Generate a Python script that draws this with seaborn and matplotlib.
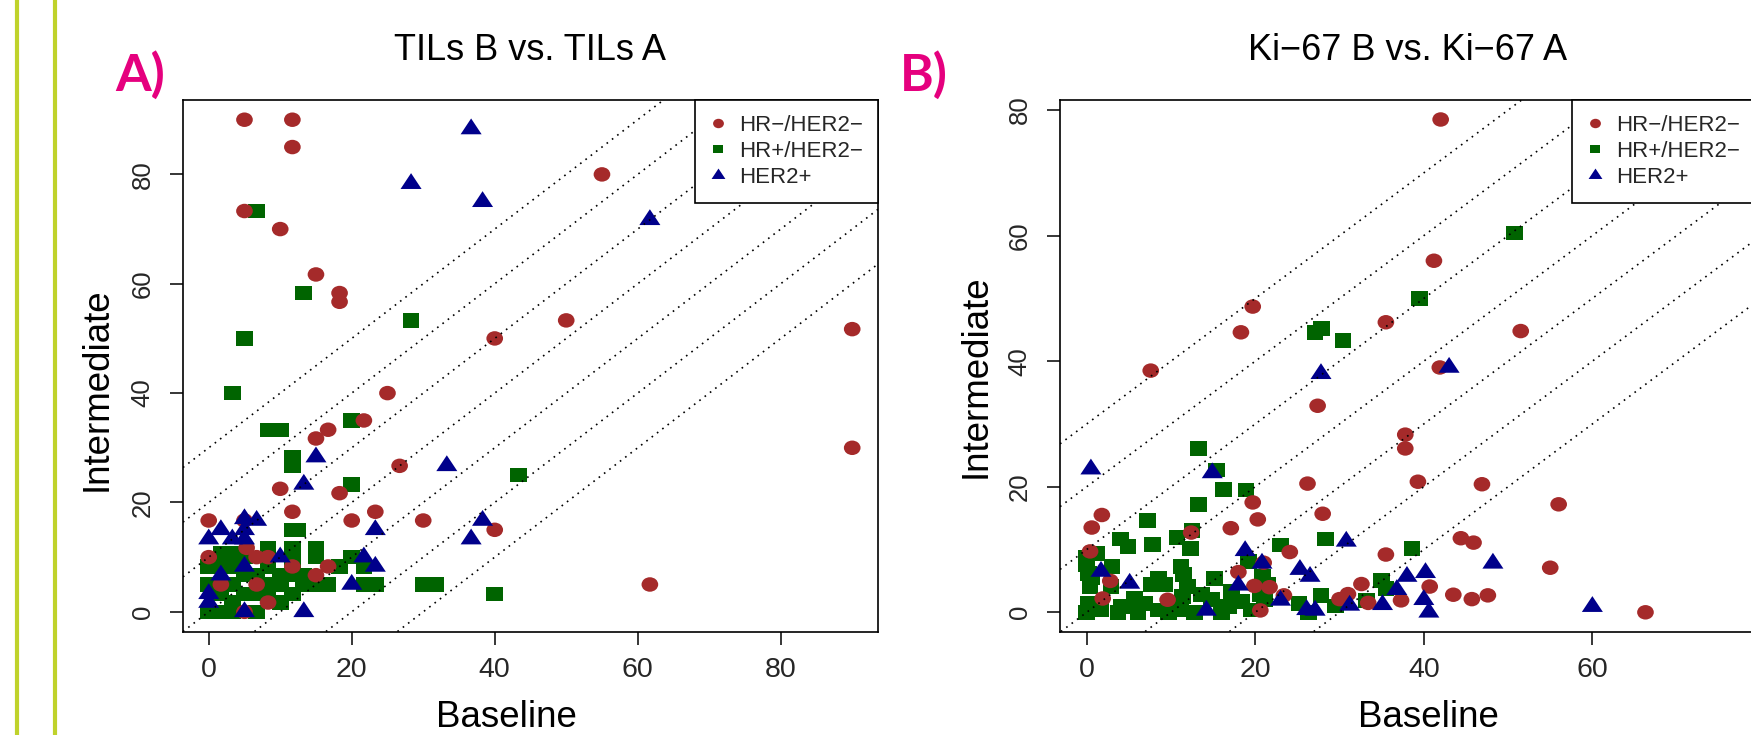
import matplotlib

matplotlib.use("Agg")
import matplotlib.pyplot as plt
import pandas as pd
import seaborn as sns
from matplotlib.lines import Line2D
from matplotlib.path import Path

# Points: (baseline, intermediate)
tils_hr_neg = [(5, 90), (11.7, 90), (11.7, 85), (55, 80), (5, 73.3), (10, 70), (15, 61.7),
               (18.3, 58.3), (18.3, 56.7), (50, 53.3), (90, 51.7), (40, 50), (25, 40),
               (21.7, 35), (16.7, 33.3), (15, 31.7), (26.7, 26.7), (10, 22.5), (18.3, 21.7),
               (11.7, 18.3), (23.3, 18.3), (0, 16.7), (20, 16.7), (30, 16.7), (40, 15),
               (90, 30), (61.7, 5), (5, 16.7), (5.3, 11.7), (0, 10), (6.7, 10), (8.3, 10),
               (11.7, 8.3), (15, 6.7), (16.7, 8.3), (1.7, 5), (6.7, 5), (8.3, 1.7), (5, 0)]
tils_hr_pos = [(6.7, 73.3), (13.3, 58.3), (28.3, 53.3), (5, 50), (3.3, 40), (20, 35),
               (8.3, 33.3), (10, 33.3), (11.7, 28.3), (11.7, 26.7), (20, 23.3), (43.3, 25),
               (30, 5), (31.7, 5), (40, 3.3), (11.7, 15), (12.5, 15), (8.3, 11.7), (11.7, 11.7),
               (11.7, 9.4), (15, 11.7), (15, 10), (18.3, 8.3), (20, 10), (21.7, 8.3), (16.7, 5),
               (21.7, 5), (23.3, 5), (13.3, 5), (11.7, 3.3), (10, 1.7), (6.7, 0), (0, 0),
               (1.7, 0), (0, 5), (0, 8.3), (1.7, 10.8), (3.3, 10.8), (3.3, 8.3), (5, 10),
               (5, 6.7), (3.3, 5), (6.7, 6.7), (8.3, 5), (10, 6.7), (3.3, 1.7), (5, 3.3),
               (1.7, 3.3), (8.3, 8.3), (10, 5), (13.3, 6.7), (3.3, 0), (6.7, 3.3), (11.7, 6.7),
               (1.7, 8.3), (8.3, 3.3), (15, 5)]
tils_her2 = [(36.7, 88.3), (28.3, 78.3), (38.3, 75), (61.7, 71.7), (15, 28.3), (13.3, 23.3),
             (33.3, 26.7), (38.3, 16.7), (36.7, 13.3), (23.3, 15), (21.7, 10), (23.3, 8.3),
             (20, 5), (13.3, 0), (5, 17), (6.7, 16.7), (1.7, 15), (5, 15), (0, 13.3),
             (3.3, 13.3), (5, 13.3), (10, 10), (5, 8.3), (1.7, 6.7), (0, 3.3), (0, 1.7), (5, 0)]

ki67_hr_neg = [(42, 78.5), (41.2, 56), (19.7, 48.7), (18.3, 44.6), (35.5, 46.2), (51.5, 44.8),
               (41.9, 39), (7.6, 38.5), (27.4, 32.9), (37.8, 28.3), (37.8, 26.1), (39.3, 20.8),
               (26.2, 20.5), (46.9, 20.4), (19.7, 17.5), (56, 17.2), (1.8, 15.5), (28, 15.7),
               (0.6, 13.5), (20.3, 14.8), (17.1, 13.4), (12.4, 12.7), (44.4, 11.8), (45.9, 11.1),
               (24.1, 9.6), (35.5, 9.2), (0.4, 9.7), (21, 7.9), (18, 6.4), (55, 7.1), (2.8, 5),
               (19.9, 4.2), (21.7, 4), (32.6, 4.5), (40.7, 4.1), (23.4, 2.7), (43.5, 2.8),
               (47.6, 2.7), (45.7, 2.1), (37.3, 1.9), (31, 2.9), (30, 2.1), (33.4, 1.5),
               (1.9, 2.2), (9.6, 2), (20.6, 0.3), (66.3, 0)]
ki67_hr_pos = [(50.8, 60.4), (39.5, 50), (27.1, 44.6), (27.9, 45.2), (30.4, 43.3), (13.3, 26.1),
               (15.4, 22.7), (16.2, 19.6), (18.9, 19.5), (13.3, 17.2), (7.2, 14.6), (4, 11.7),
               (4.9, 10.5), (7.8, 10.8), (10.7, 11.9), (12.5, 13), (12.3, 10.2), (23, 10.7),
               (28.3, 11.7), (38.6, 10.2), (0, 8.7), (1.2, 9.4), (3, 7.3), (19.2, 8.1), (35, 5.1),
               (27.8, 2.7), (29.5, 1), (33.2, 1.9), (21.5, 4.5), (25.2, 1.4), (26.3, 0),
               (35.5, 3.8), (20.6, 2.8), (0.2, 6.2), (0.4, 4.1), (0.2, 1.4), (0, 0), (1.7, 0.4),
               (4.1, 0.9), (7.7, 4.4), (9.3, 4.4), (11.2, 7.3), (12, 4.1), (11.4, 2.5), (6.9, 1.4),
               (8.5, 0.4), (11.2, 0.4), (13.6, 2.8), (15.2, 5.4), (14.8, 2), (17.2, 3.3),
               (16.8, 0.9), (18.4, 1.7), (19.5, 0.4), (20.9, 5.7), (21.1, 2), (2.9, 4.1),
               (5.7, 2.2), (3.7, 0), (6.1, 0), (9.7, 0), (12.8, 0), (16, 0), (0, 7.5), (0.6, 5.5),
               (11.5, 6), (8.5, 5.5)]
ki67_her2 = [(43, 39), (27.8, 38), (0.5, 22.8), (14.9, 22.2), (30.8, 11.3), (18.8, 9.8),
             (20.8, 7.8), (48.2, 7.8), (25.3, 6.8), (26.5, 5.7), (38, 5.7), (40.2, 6.3),
             (36.8, 3.6), (40, 2), (40.6, 0), (35.1, 1.2), (26.1, 0.4), (27.1, 0.3), (31.2, 1.1),
             (23, 1.9), (60, 0.9), (14.2, 0.3), (1.7, 6.5), (5.1, 4.6), (18, 4.3)]

groups = ["HR\u2212/HER2\u2212", "HR+/HER2\u2212", "HER2+"]
group_colors = ["#A52A2A", "#006400", "#00008B"]
diag_offsets = [-30, -20, -10, 0, 10, 20, 30]
ticks_a = [0, 20, 40, 60, 80]
ticks_b = [0, 20, 40, 60]
ticks_y = [0, 20, 40, 60, 80]


def build_frame(panel, series):
    rows = []
    for group, points in zip(groups, series):
        for base, inter in points:
            rows.append({"panel": panel, "group": group,
                         "Baseline": base, "Intermediate": inter})
    return rows


df = pd.DataFrame(build_frame("A", [tils_hr_neg, tils_hr_pos, tils_her2])
                  + build_frame("B", [ki67_hr_neg, ki67_hr_pos, ki67_her2]))

# R draws this picture slightly stretched sideways, so the markers are too
STRETCH = 1.15
circle = Path(Path.unit_circle().vertices * [STRETCH, 1.0], Path.unit_circle().codes)
square = Path([(-STRETCH, -1), (STRETCH, -1), (STRETCH, 1), (-STRETCH, 1), (-STRETCH, -1)],
              closed=True)
triangle = Path([(0, 1.555), (1.347 * STRETCH, -0.778), (-1.347 * STRETCH, -0.778), (0, 1.555)],
                closed=True)
markers = [circle, square, triangle]
marker_area = [144, 144, 231]
legend_size = [7.8, 7.0, 10.0]

sns.set_theme(style="ticks")
plt.rcParams["font.family"] = ["Liberation Sans", "DejaVu Sans"]

fig = plt.figure(figsize=(17.51, 7.35), dpi=100)
ax_a = fig.add_axes([0.1045, 0.1408, 0.3969, 0.7231])
ax_b = fig.add_axes([0.6054, 0.1408, 0.3969, 0.7231])

panels = [
    dict(ax=ax_a, key="A", title="TILs B vs. TILs A", xlim=(-3.6, 93.6), ylim=(-3.6, 93.6),
         xticks=ticks_a, xlab=(0.466, -0.180), ylab=(-0.124, 0.456), letter="A)",
         letter_x=0.0657),
    dict(ax=ax_b, key="B", title="Ki\u221267 B vs. Ki\u221267 A", xlim=(-3.16, 79.3),
         ylim=(-3.06, 81.6), xticks=ticks_b, xlab=(0.5295, -0.180), ylab=(-0.121, 0.481),
         letter="B)", letter_x=0.514),
]

for p in panels:
    ax = p["ax"]
    for i in [1, 0, 2]:
        sub = df[(df["panel"] == p["key"]) & (df["group"] == groups[i])]
        sns.scatterplot(data=sub, x="Baseline", y="Intermediate", marker=markers[i],
                        s=marker_area[i], color=group_colors[i], linewidth=0,
                        edgecolor="none", legend=False, ax=ax, zorder=2)
    for off in diag_offsets:
        ax.axline((0, off), slope=1, color="black", lw=1.2, ls=(0, (1, 3)), zorder=3)

    ax.set_xlim(*p["xlim"])
    ax.set_ylim(*p["ylim"])
    ax.set_xticks(p["xticks"])
    ax.set_yticks(ticks_y, [str(t) for t in ticks_y], rotation=90, va="center")
    ax.tick_params(axis="both", direction="out", length=9.4, width=1.1, color="black")
    ax.tick_params(axis="x", labelsize=20.5, pad=9)
    ax.tick_params(axis="y", labelsize=18.5, pad=11)
    for spine in ax.spines.values():
        spine.set_color("black")
        spine.set_linewidth(1.2)

    ax.set_title(p["title"], fontsize=26, pad=29, color="black")
    ax.set_xlabel("Baseline", fontsize=26.5, color="black")
    ax.xaxis.set_label_coords(*p["xlab"])
    ax.xaxis.label.set_va("baseline")
    ax.set_ylabel("Intermediate", fontsize=26.5, color="black")
    ax.yaxis.set_label_coords(*p["ylab"])
    ax.yaxis.label.set_va("center")

    handles = [Line2D([], [], ls="none", marker=markers[i], markersize=legend_size[i],
                      markeredgewidth=0, color=group_colors[i]) for i in range(3)]
    leg = ax.legend(handles, groups, loc="upper right", fontsize=16, borderaxespad=0,
                    borderpad=0.68, labelspacing=0.22, handlelength=0.67, handletextpad=0.61,
                    fancybox=False, framealpha=1, edgecolor="black")
    leg.get_frame().set_linewidth(1.2)
    leg.set_zorder(5)

    fig.text(p["letter_x"], 0.8762, p["letter"], color="#E5007E", fontsize=37,
             fontweight="bold", family=["Lato", "DejaVu Sans"], va="baseline")

# the two thin green rules at the left edge of the page
for xpix in [17, 55]:
    fig.add_artist(Line2D([xpix / 1751, xpix / 1751], [0, 1], transform=fig.transFigure,
                          color="#BFD22B", lw=3))

fig.savefig("out.png", dpi=100)
